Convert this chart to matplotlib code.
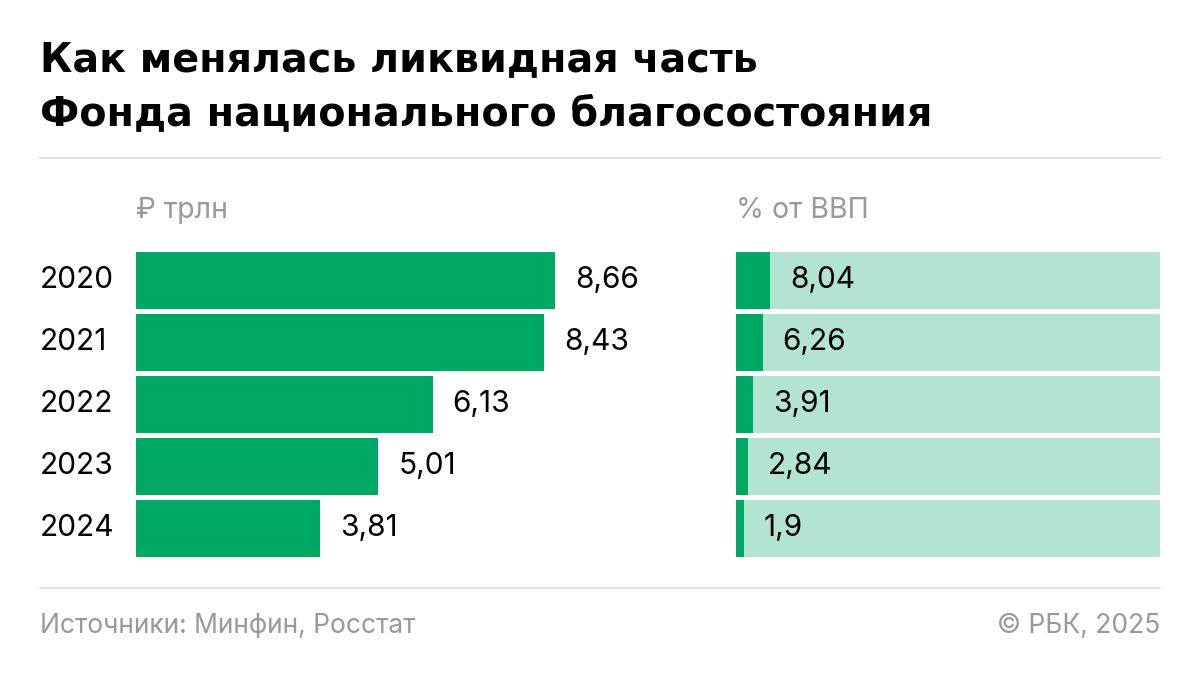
import matplotlib
matplotlib.use("Agg")
import matplotlib.pyplot as plt
from matplotlib.lines import Line2D

plt.rcParams['font.family'] = ['Inter', 'Roboto', 'DejaVu Sans']

years = ["2020", "2021", "2022", "2023", "2024"]
trln = [8.66, 8.43, 6.13, 5.01, 3.81]
pct_gdp = [8.04, 6.26, 3.91, 2.84, 1.9]
trln_labels = ["8,66", "8,43", "6,13", "5,01", "3,81"]
pct_labels = ["8,04", "6,26", "3,91", "2,84", "1,9"]

DARK = "#00A865"
LIGHT = "#B3E4D2"
GREY = "#999999"

W, H = 1200, 674
fig = plt.figure(figsize=(W / 100, H / 100), dpi=100)
fig.patch.set_facecolor("white")

def px_axes(x0, y0, x1, y1):
    return fig.add_axes([x0 / W, 1 - y1 / H, (x1 - x0) / W, (y1 - y0) / H])

# Title
TITLE_FONT = ['DejaVu Sans']
fig.text(40 / W, 1 - 71 / H, "Как менялась ликвидная часть", fontsize=28.5, fontweight="bold",
         va="baseline", ha="left", color="black", family=TITLE_FONT)
fig.text(40 / W, 1 - 125 / H, "Фонда национального благосостояния", fontsize=28.5, fontweight="bold",
         va="baseline", ha="left", color="black", family=TITLE_FONT)

# separators
fig.add_artist(Line2D([40 / W, 1160 / W], [1 - 158 / H] * 2, color="#DDDDDD", lw=1.2))
fig.add_artist(Line2D([40 / W, 1160 / W], [1 - 588 / H] * 2, color="#DDDDDD", lw=1.2))

# subheaders
fig.text(136 / W, 1 - 210 / H, "₽ трлн", fontsize=20.5, color=GREY, va="center", ha="left")
fig.text(736 / W, 1 - 210 / H, "% от ВВП", fontsize=20.5, color=GREY, va="center", ha="left")

# footer
fig.text(40 / W, 1 - 626 / H, "Источники: Минфин, Росстат", fontsize=19, color=GREY, va="center", ha="left")
fig.text(1160 / W, 1 - 626 / H, "© РБК, 2025", fontsize=19, color=GREY, va="center", ha="right")

ypos = list(range(len(years)))
bar_h = 57 / 62
top = 28.5 / 62
bottom = len(years) - 1 + (305 - 28.5 - 62 * 4) / 62

VAL_FS = 21.5

# left axes
axL = px_axes(136, 252, 700, 557)
axL.barh(ypos, trln, height=bar_h, color=DARK)
axL.set_xlim(0, (700 - 136) / (419 / 8.66))
axL.set_ylim(bottom, -top)
axL.axis("off")
for y, v, lab in zip(ypos, trln, trln_labels):
    axL.annotate(lab, (v, y), xytext=(20 * 0.72, 0), textcoords="offset points",
                 va="center", ha="left", fontsize=VAL_FS, color="black")
for y, yr in zip(ypos, years):
    axL.annotate(yr, (0, y), xycoords=("axes fraction", "data"), xytext=(-96 * 0.72, 0),
                 textcoords="offset points", va="center", ha="left", fontsize=VAL_FS, color="black")

# right axes
axR = px_axes(736, 252, 1160, 557)
axR.barh(ypos, [100] * len(years), height=bar_h, color=LIGHT)
axR.barh(ypos, pct_gdp, height=bar_h, color=DARK)
axR.set_xlim(0, 100)
axR.set_ylim(bottom, -top)
axR.axis("off")
for y, v, lab in zip(ypos, pct_gdp, pct_labels):
    axR.annotate(lab, (v, y), xytext=(20 * 0.72, 0), textcoords="offset points",
                 va="center", ha="left", fontsize=VAL_FS, color="black")

fig.savefig("out.png", dpi=100, facecolor="white")
